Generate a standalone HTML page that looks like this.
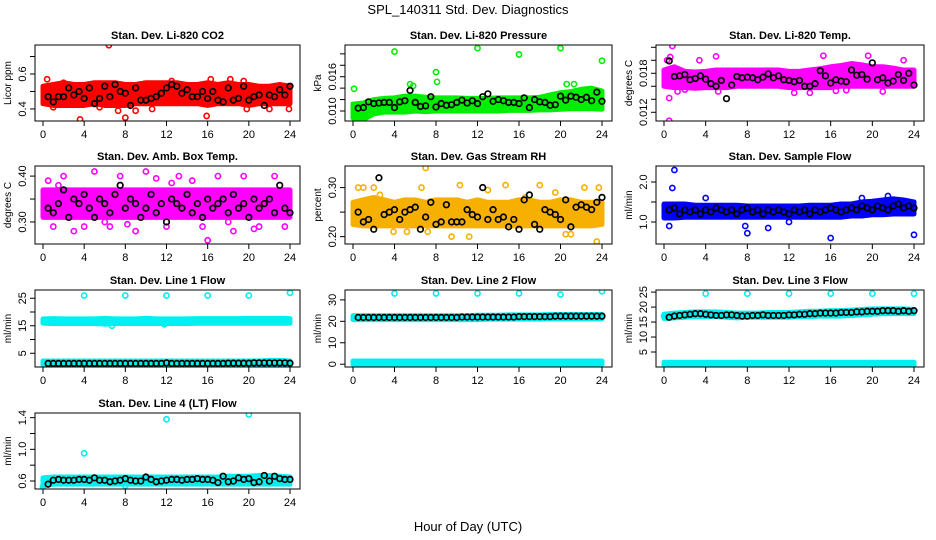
<!DOCTYPE html>
<html><head><meta charset="utf-8"><style>
body{margin:0;background:#fff}
svg{display:block;font-family:"Liberation Sans",sans-serif}
</style></head><body>
<svg id="c" width="936" height="540">
<text x="468" y="14" text-anchor="middle" font-size="13">SPL_140311  Std. Dev. Diagnostics</text>
<text x="468" y="531" text-anchor="middle" font-size="13">Hour of Day (UTC)</text>
</svg>
<script>
const xTicks=[0,4,8,12,16,20,24];
const hours=[0,1,2,3,4,5,6,7,8,9,10,11,12,13,14,15,16,17,18,19,20,21,22,23,24];
const blackHours=[0.5,1,1.5,2,2.5,3,3.5,4,4.5,5,5.5,6,6.5,7,7.5,8,8.5,9,9.5,10,10.5,11,11.5,12,12.5,13,13.5,14,14.5,15,15.5,16,16.5,17,17.5,18,18.5,19,19.5,20,20.5,21,21.5,22,22.5,23,23.5,24];
// CO2
const co2Lo=[0.43,0.42,0.42,0.42,0.42,0.43,0.42,0.42,0.42,0.43,0.43,0.43,0.43,0.43,0.43,0.43,0.42,0.43,0.43,0.43,0.42,0.43,0.43,0.43,0.43];
const co2Hi=[0.53,0.54,0.55,0.54,0.54,0.55,0.55,0.55,0.54,0.54,0.55,0.55,0.55,0.55,0.54,0.54,0.55,0.54,0.55,0.54,0.54,0.53,0.53,0.54,0.53];
const co2ExH=[6.4,3.6,8,15.9,0.4,16.3,18.2,19.5,7.3,10.6,23.9,1,12.5,22,5.5,19.8,2,9];
const co2ExV=[0.765,0.34,0.35,0.36,0.57,0.57,0.57,0.56,0.39,0.40,0.40,0.41,0.56,0.40,0.41,0.40,0.55,0.39];
const co2K=[0.47,0.44,0.47,0.47,0.52,0.48,0.50,0.46,0.52,0.43,0.46,0.53,0.47,0.54,0.50,0.49,0.42,0.52,0.45,0.45,0.46,0.47,0.49,0.52,0.54,0.53,0.49,0.51,0.47,0.47,0.50,0.46,0.50,0.45,0.44,0.52,0.45,0.46,0.53,0.45,0.47,0.48,0.42,0.48,0.47,0.51,0.48,0.53];
// Pressure
const prLo=[0.0088,0.0085,0.0095,0.0098,0.0098,0.0098,0.0100,0.0099,0.0100,0.0100,0.0100,0.0100,0.0100,0.0100,0.0100,0.0101,0.0101,0.0101,0.0102,0.0102,0.0103,0.0104,0.0104,0.0104,0.0103];
const prHi=[0.0112,0.0114,0.0120,0.0122,0.0123,0.0126,0.0126,0.0124,0.0123,0.0123,0.0123,0.0122,0.0122,0.0122,0.0123,0.0123,0.0123,0.0123,0.0124,0.0128,0.0132,0.0134,0.0138,0.0140,0.0135];
const prExH=[4,12,16,20,24,8,5.5,0.1,20.6,21.3,8.1,5.8,1,0.8];
const prExV=[0.0204,0.0210,0.0199,0.0210,0.0188,0.0168,0.0147,0.0139,0.0147,0.0147,0.0151,0.0144,0.0085,0.0083];
const prK=[0.0105,0.0106,0.0116,0.0113,0.0114,0.0115,0.0115,0.0106,0.0116,0.0118,0.0136,0.0115,0.0108,0.0109,0.0125,0.0107,0.0113,0.0110,0.0111,0.0115,0.0119,0.0114,0.0118,0.0113,0.0125,0.0130,0.0117,0.0120,0.0118,0.0115,0.0115,0.0113,0.0123,0.0106,0.0120,0.0116,0.0115,0.0110,0.0111,0.0126,0.0119,0.0126,0.0124,0.0120,0.0124,0.0118,0.0133,0.0117];
// Temp
const tLo=[0.0160,0.0158,0.0158,0.0157,0.0158,0.0158,0.0158,0.0160,0.0160,0.0160,0.0160,0.0160,0.0158,0.0158,0.0158,0.0158,0.0158,0.0160,0.0160,0.0160,0.0160,0.0160,0.0160,0.0160,0.0160];
const tHi=[0.0185,0.0190,0.0183,0.0182,0.0183,0.0185,0.0185,0.0185,0.0185,0.0185,0.0185,0.0185,0.0183,0.0183,0.0185,0.0187,0.0190,0.0192,0.0195,0.0193,0.0190,0.0190,0.0188,0.0185,0.0185];
const tExH=[0.5,0.5,0.8,0.6,5,3.4,15.3,19.6,14,5.2,1.3,21,16.5,17.5,23,12.5,0.3,2];
const tExV=[0.0107,0.0142,0.0222,0.0205,0.0206,0.0200,0.0207,0.0207,0.0150,0.0152,0.0152,0.0152,0.0153,0.0154,0.0200,0.0150,0.0200,0.0155];
const tK=[0.0199,0.0175,0.0176,0.0178,0.0170,0.0172,0.0176,0.0171,0.0164,0.0160,0.0169,0.0141,0.0162,0.0175,0.0173,0.0174,0.0173,0.0170,0.0174,0.0179,0.0173,0.0176,0.0170,0.0169,0.0167,0.0169,0.0160,0.0160,0.0164,0.0184,0.0176,0.0165,0.0170,0.0168,0.0167,0.0185,0.0177,0.0178,0.0171,0.0196,0.0170,0.0173,0.0165,0.0168,0.0178,0.0169,0.0180,0.0162];
// Amb box
const abLo=[0.31,0.31,0.31,0.31,0.31,0.31,0.31,0.31,0.31,0.31,0.31,0.31,0.31,0.31,0.31,0.31,0.31,0.31,0.31,0.31,0.31,0.31,0.31,0.31,0.31];
const abHi=[0.37,0.37,0.37,0.37,0.37,0.37,0.37,0.37,0.37,0.37,0.37,0.37,0.37,0.37,0.37,0.37,0.37,0.37,0.37,0.37,0.37,0.37,0.37,0.37,0.37];
const abExH=[0.5,1,2,3,5,6.5,7.5,9,10,12,13.2,15.5,16,17,18.5,19.5,21,22.5,23.5,4,11,20.5,8.2,14.5,1.5,6,12.5,18];
const abExV=[0.39,0.29,0.40,0.28,0.41,0.29,0.40,0.28,0.41,0.29,0.40,0.29,0.26,0.40,0.28,0.40,0.29,0.40,0.29,0.29,0.395,0.285,0.295,0.39,0.38,0.30,0.385,0.30];
const abK=[0.33,0.32,0.34,0.37,0.31,0.35,0.34,0.36,0.33,0.31,0.35,0.34,0.32,0.36,0.38,0.33,0.35,0.34,0.31,0.33,0.36,0.32,0.34,0.30,0.35,0.34,0.33,0.36,0.32,0.34,0.31,0.35,0.33,0.34,0.35,0.32,0.36,0.33,0.34,0.31,0.35,0.33,0.34,0.35,0.32,0.38,0.33,0.32];
// RH
const rhLo=[0.225,0.222,0.222,0.222,0.222,0.222,0.222,0.222,0.222,0.222,0.222,0.222,0.222,0.222,0.222,0.222,0.222,0.222,0.222,0.222,0.222,0.222,0.222,0.222,0.225];
const rhHi=[0.27,0.275,0.28,0.275,0.27,0.275,0.275,0.27,0.275,0.275,0.275,0.27,0.275,0.27,0.27,0.27,0.275,0.275,0.27,0.27,0.275,0.275,0.27,0.27,0.27];
const rhExH=[0.5,1,2,7,7.2,9.5,11.2,10.3,14.7,18,22.3,23.5,23.7,5.2,3.9,20.5,21,6.6,19.5,13,2.6,16.6];
const rhExV=[0.30,0.30,0.30,0.34,0.21,0.20,0.20,0.305,0.305,0.305,0.30,0.19,0.30,0.21,0.21,0.205,0.205,0.30,0.29,0.295,0.285,0.28];
const rhK=[0.25,0.23,0.235,0.215,0.32,0.245,0.25,0.255,0.235,0.25,0.255,0.26,0.215,0.24,0.27,0.225,0.23,0.265,0.23,0.23,0.23,0.255,0.245,0.24,0.30,0.235,0.255,0.235,0.24,0.22,0.235,0.215,0.275,0.285,0.225,0.215,0.255,0.25,0.245,0.235,0.275,0.22,0.26,0.265,0.26,0.255,0.27,0.28];
// Sample flow
const sfLo=[1.1,1.1,1.12,1.12,1.12,1.12,1.12,1.12,1.12,1.12,1.12,1.12,1.12,1.12,1.12,1.12,1.12,1.12,1.15,1.15,1.18,1.18,1.2,1.2,1.2];
const sfHi=[1.45,1.45,1.45,1.42,1.42,1.42,1.42,1.42,1.4,1.4,1.4,1.4,1.4,1.4,1.42,1.42,1.42,1.45,1.45,1.5,1.52,1.55,1.58,1.55,1.5];
const sfExH=[1,0.8,8,16,24,10,0.5,21.5,4,7.8,12,19];
const sfExV=[2.3,1.85,0.72,0.6,0.68,0.85,0.9,1.65,1.6,0.9,1.0,1.6];
const sfK=[1.3,1.35,1.2,1.3,1.25,1.3,1.2,1.3,1.25,1.35,1.3,1.25,1.3,1.2,1.3,1.35,1.25,1.3,1.2,1.3,1.25,1.3,1.25,1.2,1.3,1.25,1.3,1.2,1.3,1.25,1.3,1.35,1.3,1.25,1.3,1.35,1.3,1.4,1.35,1.3,1.4,1.35,1.3,1.4,1.45,1.35,1.4,1.35];
// Line 1
const l1Lo=[15.9,15.8,15.8,15.8,15.8,15.8,15.6,15.8,15.8,15.8,15.8,15.8,15.8,15.8,15.8,15.9,15.9,15.9,15.9,15.9,15.9,15.9,15.9,15.9,15.9];
const l1Hi=[17.5,17.6,17.5,17.5,17.5,17.5,17.7,17.5,17.5,17.5,17.7,17.5,17.5,17.5,17.5,17.6,17.6,17.6,17.6,17.6,17.7,17.7,17.7,17.7,17.6];
const l1Lo2=[0.6,0.6,0.6,0.6,0.6,0.6,0.6,0.6,0.6,0.6,0.6,0.6,0.6,0.6,0.6,0.6,0.6,0.6,0.6,0.6,0.6,0.6,0.6,0.6,0.6];
const l1Hi2=[2.2,2.2,2.2,2.2,2.2,2.2,2.2,2.2,2.2,2.2,2.2,2.2,2.2,2.2,2.2,2.2,2.2,2.2,2.2,2.2,2.2,2.2,2.4,2.4,2.2];
const l1ExH=[4,8,12,16,20,24,6.7,11.8];
const l1ExV=[26,26,26,26,26,27,15,15.5];
const l1K=[1.3,1.3,1.3,1.3,1.3,1.3,1.3,1.3,1.3,1.3,1.3,1.3,1.3,1.3,1.3,1.3,1.3,1.3,1.3,1.3,1.3,1.3,1.3,1.5,1.3,1.3,1.3,1.3,1.3,1.3,1.3,1.3,1.3,1.3,1.3,1.4,1.4,1.4,1.4,1.4,1.5,1.5,1.5,1.5,1.5,1.5,1.5,1.4];
// Line 2
const l2Lo=[20.8,20.8,20.8,20.8,20.8,20.8,20.8,20.8,20.8,20.8,20.8,20.8,20.8,21,21,21,21,21,21,21.2,21.2,21.2,21.2,21.2,21.2];
const l2Hi=[22.6,22.6,22.6,22.6,22.6,22.6,22.6,22.6,22.6,22.6,22.6,22.6,22.8,22.8,22.8,23,23,23,23,23.2,23.2,23.2,23.2,23.2,23.2];
const l2Lo2=[0,0,0,0,0,0,0,0,0,0,0,0,0,0,0,0,0,0,0,0,0,0,0,0,0];
const l2Hi2=[1.5,1.5,1.5,1.5,1.5,1.5,1.5,1.5,1.5,1.5,1.5,1.5,1.5,1.5,1.5,1.5,1.5,1.5,1.5,1.5,1.5,1.5,1.5,1.5,1.5];
const l2ExH=[4,8,12,16,20,24];
const l2ExV=[33,33,33,33,32.5,34];
const l2K=[21.8,21.8,21.8,21.8,21.8,21.8,21.8,21.8,21.8,21.8,21.8,21.8,21.8,21.8,21.8,21.8,21.8,21.8,21.8,21.8,22,22,22,22,22,22,22,22,22,22,22,22.2,22.2,22.2,22.2,22.2,22.2,22.2,22.4,22.4,22.4,22.4,22.4,22.4,22.4,22.4,22.4,22.4];
// Line 3
const l3Lo=[16.2,16.4,16.6,16.8,16.8,16.8,16.6,16.4,16.6,16.6,16.6,16.6,16.6,16.8,16.8,17,17,17,17.2,17.4,17.6,17.8,17.8,17.8,17.8];
const l3Hi=[17.6,18,18.2,18.4,18.4,18.4,18.2,18,18,18,18.2,18.2,18.2,18.4,18.6,18.6,18.8,18.8,19,19.2,19.4,19.4,19.4,19.4,19.2];
const l3Lo2=[0.4,0.4,0.4,0.4,0.4,0.4,0.4,0.4,0.4,0.4,0.4,0.4,0.4,0.4,0.4,0.4,0.4,0.4,0.4,0.4,0.4,0.4,0.4,0.4,0.4];
const l3Hi2=[1.6,1.6,1.6,1.6,1.6,1.6,1.6,1.6,1.6,1.6,1.6,1.6,1.6,1.6,1.6,1.6,1.6,1.6,1.6,1.6,1.6,1.6,1.6,1.6,1.6];
const l3ExH=[4,8,12,16,20,24,0];
const l3ExV=[24.5,24.5,24.5,24.5,24.5,24.5,17];
const l3K=[16.6,17,17.2,17.4,17.6,17.8,17.8,17.6,17.4,17.2,17.2,17.4,17.4,17.2,17,17,17.2,17.2,17.4,17.2,17.2,17.2,17.2,17.4,17.4,17.6,17.6,17.8,17.8,18,18,18,18,18.2,18.2,18.2,18.4,18.4,18.6,18.6,18.6,18.8,18.8,18.8,18.6,18.8,18.6,18.8];
// Line 4 LT
const l4Lo=[0.54,0.56,0.56,0.56,0.56,0.56,0.56,0.56,0.56,0.56,0.56,0.56,0.56,0.56,0.56,0.56,0.56,0.56,0.56,0.56,0.56,0.56,0.56,0.56,0.56];
const l4Hi=[0.64,0.65,0.65,0.65,0.65,0.65,0.65,0.65,0.65,0.65,0.65,0.65,0.65,0.65,0.65,0.65,0.65,0.65,0.66,0.66,0.66,0.67,0.67,0.66,0.65];
const l4ExH=[4,12,20,0,8];
const l4ExV=[0.95,1.38,1.44,0.53,0.54];
const l4K=[0.56,0.61,0.62,0.61,0.61,0.61,0.62,0.62,0.61,0.64,0.61,0.61,0.59,0.60,0.61,0.63,0.61,0.60,0.60,0.65,0.62,0.59,0.60,0.61,0.62,0.62,0.61,0.62,0.62,0.63,0.62,0.62,0.61,0.58,0.66,0.59,0.60,0.64,0.62,0.63,0.58,0.59,0.67,0.60,0.66,0.63,0.62,0.62];

const NS='http://www.w3.org/2000/svg';
const svg=document.getElementById('c');
function mk(tag,attrs,parent){const e=document.createElementNS(NS,tag);for(const k in attrs)e.setAttribute(k,attrs[k]);(parent||svg).appendChild(e);return e;}
const colL=[35,345,656],colR=[300,612,924],rowT=[45,166,290,413],rowB=[121,244,367,489];
const panels=[
 {id:'co2',title:'Stan. Dev. Li-820 CO2',ylab:'Licor ppm',c:0,r:0,y0:0.331,y1:0.766,ticks:[0.4,0.5,0.6,0.7],labs:['0.4','','0.6',''],col:'#ff0000',bands:[[co2Lo,co2Hi]],exH:co2ExH,exV:co2ExV,k:co2K},
 {id:'pressure',title:'Stan. Dev. Li-820 Pressure',ylab:'kPa',c:1,r:0,y0:0.00825,y1:0.02155,ticks:[0.010,0.012,0.014,0.016,0.018,0.020],labs:['0.010','','','0.016','',''],col:'#00ee00',bands:[[prLo,prHi]],exH:prExH,exV:prExV,k:prK},
 {id:'temp',title:'Stan. Dev. Li-820 Temp.',ylab:'degrees C',c:2,r:0,y0:0.01066,y1:0.02235,ticks:[0.012,0.014,0.016,0.018,0.020,0.022],labs:['0.012','','','0.018','',''],col:'#ff00ff',bands:[[tLo,tHi]],exH:tExH,exV:tExV,k:tK},
 {id:'ambbox',title:'Stan. Dev. Amb. Box Temp.',ylab:'degrees C',c:0,r:1,y0:0.252,y1:0.422,ticks:[0.30,0.35,0.40],labs:['0.30','','0.40'],col:'#ff00ff',bands:[[abLo,abHi]],exH:abExH,exV:abExV,k:abK},
 {id:'rh',title:'Stan. Dev. Gas Stream RH',ylab:'percent',c:1,r:1,y0:0.185,y1:0.344,ticks:[0.20,0.25,0.30],labs:['0.20','','0.30'],col:'#f8b000',bands:[[rhLo,rhHi]],exH:rhExH,exV:rhExV,k:rhK},
 {id:'sampleflow',title:'Stan. Dev. Sample Flow',ylab:'ml/min',c:2,r:1,y0:0.45,y1:2.4,ticks:[1.0,1.5,2.0],labs:['1.0','','2.0'],col:'#0000ff',bands:[[sfLo,sfHi]],exH:sfExH,exV:sfExV,k:sfK},
 {id:'line1',title:'Stan. Dev. Line 1 Flow',ylab:'ml/min',c:0,r:2,y0:0,y1:28,ticks:[5,10,15,20,25],labs:['5','','15','','25'],col:'#00f0f0',bands:[[l1Lo,l1Hi],[l1Lo2,l1Hi2]],exH:l1ExH,exV:l1ExV,k:l1K},
 {id:'line2',title:'Stan. Dev. Line 2 Flow',ylab:'ml/min',c:1,r:2,y0:-1.3,y1:34.6,ticks:[0,10,20,30],labs:['0','10','20','30'],col:'#00f0f0',bands:[[l2Lo,l2Hi],[l2Lo2,l2Hi2]],exH:l2ExH,exV:l2ExV,k:l2K},
 {id:'line3',title:'Stan. Dev. Line 3 Flow',ylab:'ml/min',c:2,r:2,y0:0,y1:25.7,ticks:[5,10,15,20,25],labs:['5','10','15','20','25'],col:'#00f0f0',bands:[[l3Lo,l3Hi],[l3Lo2,l3Hi2]],exH:l3ExH,exV:l3ExV,k:l3K},
 {id:'line4',title:'Stan. Dev. Line 4 (LT) Flow',ylab:'ml/min',c:0,r:3,y0:0.499,y1:1.459,ticks:[0.6,0.8,1.0,1.2,1.4],labs:['0.6','','1.0','','1.4'],col:'#00f0f0',bands:[[l4Lo,l4Hi]],exH:l4ExH,exV:l4ExV,k:l4K}
];
panels.forEach(p=>{
 const L=colL[p.c],R=colR[p.c],T=rowT[p.r],B=rowB[p.r];
 const xs=h=>L+8+(R-L-18)*h/24;
 const ys=v=>B-(v-p.y0)/(p.y1-p.y0)*(B-T);
 const g=mk('g',{});
 
 
 const t=mk('text',{x:(L+R)/2,y:T-6,'text-anchor':'middle','font-size':11,'font-weight':'bold'},g);t.textContent=p.title;
 
 
 const clip=mk('clipPath',{id:'cl'+p.id},g);mk('rect',{x:L,y:T,width:R-L,height:B-T},clip);
 const d=mk('g',{'clip-path':'url(#cl'+p.id+')'},g);
 p.bands.forEach(b=>{
  let pts=hours.map((h,i)=>xs(h)+','+ys(b[1][i]));
  pts=pts.concat(hours.map((h,i)=>xs(h)+','+ys(b[0][i])).reverse());
  const pg=mk('polygon',{points:pts.join(' '),fill:p.col,stroke:p.col,'stroke-width':5,'stroke-linejoin':'round'},d);
  
  
 });
 p.exH.forEach((h,i)=>{
  const c=mk('circle',{cx:xs(h),cy:ys(p.exV[i]),r:2.6,fill:'none',stroke:p.col,'stroke-width':1.6},d);
  
  
 });
 p.k.forEach((v,i)=>{
  const c=mk('circle',{cx:xs(blackHours[i]),cy:ys(v),r:2.8,fill:'none',stroke:'#000','stroke-width':1.7},d);
  
  
 });
 const box=mk('rect',{x:L,y:T,width:R-L,height:B-T,fill:'none',stroke:'#000','stroke-width':1},g);
 
 
 xTicks.forEach(h=>{
  mk('line',{x1:xs(h),x2:xs(h),y1:B,y2:B+5,stroke:'#000'},g);
  const tl=mk('text',{x:xs(h),y:B+17,'text-anchor':'middle','font-size':11},g);tl.textContent=h;
  
  
 });
 p.ticks.forEach((v,i)=>{
  const y=ys(v);
  mk('line',{x1:L-5,x2:L,y1:y,y2:y,stroke:'#000'},g);
  if(p.labs[i]){
   const tl=mk('text',{x:0,y:0,'text-anchor':'middle','font-size':11,transform:`translate(${L-9},${y}) rotate(-90)`},g);tl.textContent=p.labs[i];
   
   
  }
 });
 const yl=mk('text',{x:0,y:0,'text-anchor':'middle','font-size':10,transform:`translate(${L-24},${(T+B)/2}) rotate(-90)`},g);yl.textContent=p.ylab;
 
 
});
</script>
</body></html>
